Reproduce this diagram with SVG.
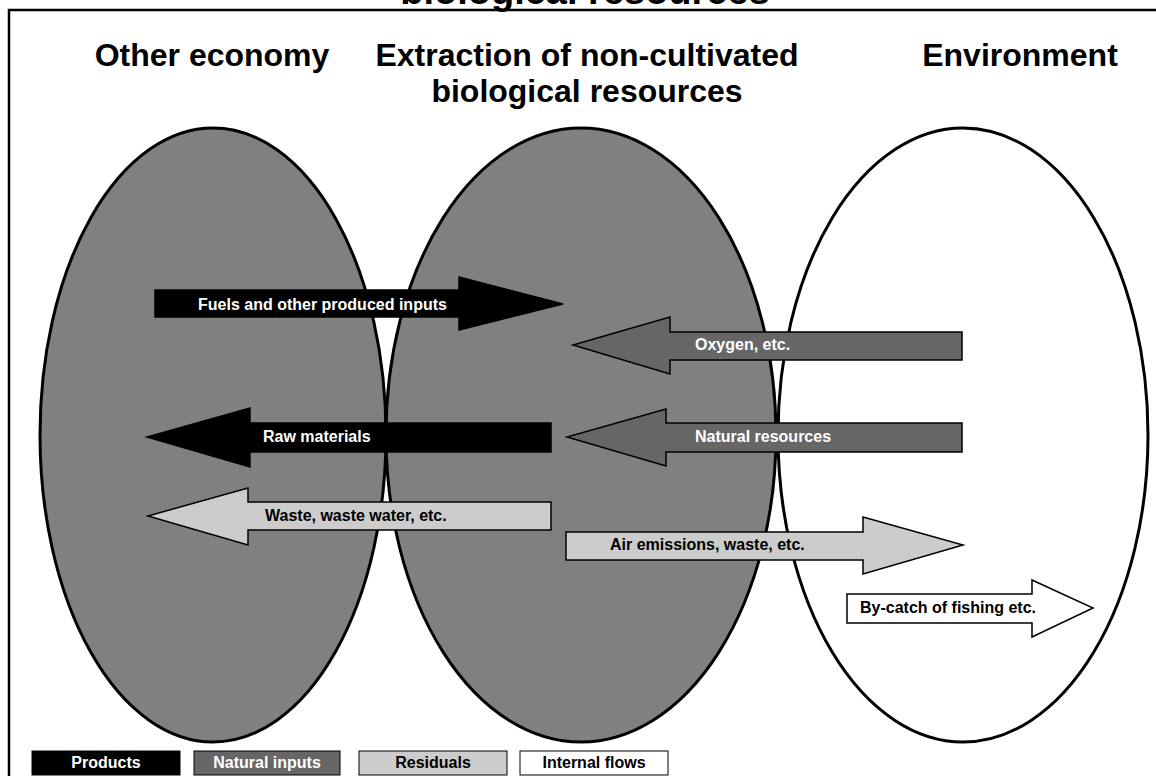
<svg xmlns="http://www.w3.org/2000/svg" width="1156" height="776" viewBox="0 0 1156 776">
<style>
text{font-family:"Liberation Sans",Arial,sans-serif;font-weight:bold}
.h{font-size:32px;fill:#000;text-anchor:middle}
.a{font-size:16px}
.w{fill:#fff}
.k{fill:#000}
.ell{stroke:#000;stroke-width:3}
.arr{stroke:#000;stroke-width:1.5;stroke-linejoin:miter}
.lg{font-size:16px;text-anchor:middle}
</style>
<rect width="1156" height="776" fill="#fff"/>
<text x="585" y="4" text-anchor="middle" style="font-size:38px">biological resources</text>
<path d="M9,776 V10 H1156" fill="none" stroke="#000" stroke-width="2.5"/>
<g id="headings">
<text class="h" x="212" y="66">Other economy</text>
<text class="h" x="587" y="66">Extraction of non-cultivated</text>
<text class="h" x="587" y="102">biological resources</text>
<text class="h" x="1020" y="66">Environment</text>
</g>
<g id="other-economy"><ellipse class="ell" cx="213" cy="435" rx="173" ry="307" fill="#808080"/></g>
<g id="extraction"><ellipse class="ell" cx="581" cy="435" rx="195" ry="307" fill="#808080"/></g>
<g id="environment"><ellipse class="ell" cx="963" cy="435" rx="185" ry="307" fill="#fff"/></g>
<g id="connectors">
<g id="fuels"><polygon class="arr" fill="#000" points="155,290 459,290 459,277 563,304 459,330 459,317 155,317"/><text class="a w" x="198" y="310">Fuels and other produced inputs</text></g>
<g id="oxygen"><polygon class="arr" fill="#666" points="962,332 670,332 670,317 573,345 670,374 670,360 962,360"/><text class="a w" x="695" y="350">Oxygen, etc.</text></g>
<g id="natural"><polygon class="arr" fill="#666" points="962,423 666,423 666,409 567,437 666,466 666,452 962,452"/><text class="a w" x="695" y="442">Natural resources</text></g>
<g id="raw"><polygon class="arr" fill="#000" points="551,423 250,423 250,408 147,437 250,467 250,452 551,452"/><text class="a w" x="263" y="442">Raw materials</text></g>
<g id="waste"><polygon class="arr" fill="#ccc" points="551,502 248,502 248,488 148,516 248,545 248,530 551,530"/><text class="a k" x="265" y="521">Waste, waste water, etc.</text></g>
<g id="air"><polygon class="arr" fill="#ccc" points="566,532 863,532 863,517 963,545 863,574 863,560 566,560"/><text class="a k" x="610" y="550">Air emissions, waste, etc.</text></g>
<g id="bycatch"><polygon class="arr" fill="#fff" points="847,594 1032,594 1032,580 1093,608 1032,637 1032,623 847,623"/><text class="a k" x="860" y="613">By-catch of fishing etc.</text></g>
</g>
<g id="legend">
<g id="lg-products"><rect x="32" y="751" width="148" height="24" fill="#000" stroke="#000" stroke-width="1"/><text class="lg w" x="106" y="768">Products</text></g>
<g id="lg-natural"><rect x="194" y="751" width="146" height="24" fill="#666" stroke="#000" stroke-width="1"/><text class="lg w" x="267" y="768">Natural inputs</text></g>
<g id="lg-residuals"><rect x="359" y="751" width="148" height="24" fill="#ccc" stroke="#000" stroke-width="1"/><text class="lg k" x="433" y="768">Residuals</text></g>
<g id="lg-internal"><rect x="520" y="751" width="148" height="24" fill="#fff" stroke="#000" stroke-width="1"/><text class="lg k" x="594" y="768">Internal flows</text></g>
</g>
</svg>
